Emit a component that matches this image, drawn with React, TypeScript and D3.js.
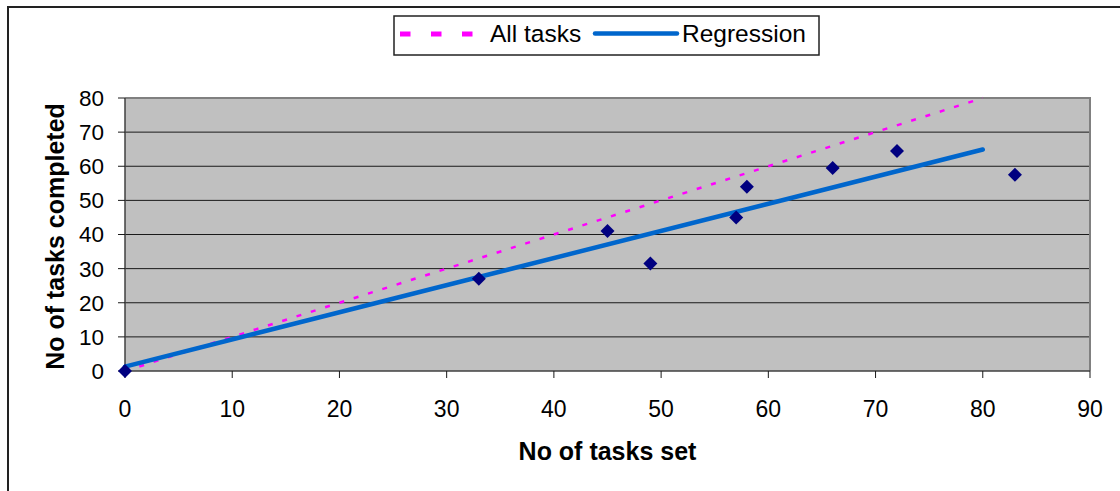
import React from "react";
import * as d3 from "d3";

const tasksSet = [0, 33, 45, 49, 57, 58, 66, 72, 83];
const tasksCompleted = [0, 27, 41, 31.5, 45, 54, 59.5, 64.5, 57.5];
const allTasksX = [0, 80];
const allTasksY = [0, 80];
const regressionX = [0, 80];
const regressionY = [1.3, 64.9];
const xTicks = [0, 10, 20, 30, 40, 50, 60, 70, 80, 90];
const yTicks = [0, 10, 20, 30, 40, 50, 60, 70, 80];
const xTitle = "No of tasks set";
const yTitle = "No of tasks completed";
const legendLabels = ["All tasks", "Regression"];

const W = 1120;
const H = 491;
const plot = { left: 125, right: 1090, top: 98, bottom: 371 };
const FONT = "Liberation Sans, Arial, Helvetica, sans-serif";

export default function App() {
  const x = d3.scaleLinear().domain([0, 90]).range([plot.left, plot.right]);
  const y = d3.scaleLinear().domain([0, 80]).range([plot.bottom, plot.top]);
  const line = d3
    .line<[number, number]>()
    .x((d) => x(d[0]))
    .y((d) => y(d[1]));
  const allPts: [number, number][] = allTasksX.map((v, i) => [v, allTasksY[i]]);
  const regPts: [number, number][] = regressionX.map((v, i) => [v, regressionY[i]]);
  const diamond = d3.symbol().type(d3.symbolDiamond2).size(125)();
  const yc = (plot.top + plot.bottom) / 2;
  const xc = (plot.left + plot.right) / 2;

  return (
    <svg
      width={W}
      height={H}
      style={{ position: "absolute", left: 0, top: 0, fontFamily: FONT }}
    >
      <rect x={0} y={0} width={W} height={H} fill="#ffffff" />
      {/* outer chart border */}
      <rect x={8} y={7} width={W + 20} height={H + 20} fill="none" stroke="#222" strokeWidth={2} />

      {/* plot area */}
      <rect
        x={plot.left}
        y={plot.top}
        width={plot.right - plot.left}
        height={plot.bottom - plot.top}
        fill="#c0c0c0"
      />
      {yTicks
        .filter((t) => t > 0 && t < 80)
        .map((t) => (
          <line
            key={"g" + t}
            x1={plot.left}
            x2={plot.right}
            y1={y(t)}
            y2={y(t)}
            stroke="#1a1a1a"
            strokeWidth={1}
          />
        ))}
      {/* top & right border (gray) */}
      <line x1={plot.left} x2={plot.right + 1} y1={plot.top} y2={plot.top} stroke="#808080" strokeWidth={2} />
      <line x1={plot.right} x2={plot.right} y1={plot.top} y2={plot.bottom} stroke="#808080" strokeWidth={2} />

      {/* axes */}
      <line x1={plot.left} x2={plot.left} y1={plot.top} y2={plot.bottom} stroke="#404040" strokeWidth={1.5} />
      <line x1={plot.left} x2={plot.right} y1={plot.bottom} y2={plot.bottom} stroke="#404040" strokeWidth={1.5} />
      {yTicks.map((t) => (
        <g key={"yt" + t}>
          <line x1={plot.left - 7} x2={plot.left} y1={y(t)} y2={y(t)} stroke="#1a1a1a" strokeWidth={1} />
          <text
            x={plot.left - 21}
            y={y(t)}
            dy="0.35em"
            textAnchor="end"
            fontSize={22.5}
            fill="#000"
          >
            {t}
          </text>
        </g>
      ))}
      {xTicks.map((t) => (
        <g key={"xt" + t}>
          <line x1={x(t)} x2={x(t)} y1={plot.bottom} y2={plot.bottom + 7} stroke="#1a1a1a" strokeWidth={1} />
          <text x={x(t)} y={417} textAnchor="middle" fontSize={23} fill="#000">
            {t}
          </text>
        </g>
      ))}

      {/* series */}
      <path
        d={line(allPts) || ""}
        fill="none"
        stroke="#ff00ff"
        strokeWidth={2.5}
        strokeDasharray="5 10"
      />
      <path
        d={line(regPts) || ""}
        fill="none"
        stroke="#0066cc"
        strokeWidth={4.5}
        strokeLinecap="round"
      />
      {tasksSet.map((v, i) => (
        <path
          key={"p" + i}
          d={diamond || ""}
          transform={`translate(${x(v)},${y(tasksCompleted[i])})`}
          fill="#000080"
        />
      ))}

      {/* axis titles */}
      <text x={xc} y={460} textAnchor="middle" fontSize={25} fontWeight="bold" fill="#000">
        {xTitle}
      </text>
      <text
        transform={`translate(64,${yc + 2}) rotate(-90)`}
        textAnchor="middle"
        fontSize={25}
        fontWeight="bold"
        fill="#000"
      >
        {yTitle}
      </text>

      {/* legend */}
      <rect x={394} y={16} width={425} height={39} fill="#fff" stroke="#222" strokeWidth={1.5} />
      <line x1={400} x2={484} y1={34} y2={34} stroke="#ff00ff" strokeWidth={5} strokeDasharray="10.5 20.5" />
      <text x={490} y={42} fontSize={24.5} fill="#000">
        {legendLabels[0]}
      </text>
      <line x1={595} x2={677} y1={33.5} y2={33.5} stroke="#0066cc" strokeWidth={4.5} strokeLinecap="round" />
      <text x={682} y={42} fontSize={24.5} fill="#000">
        {legendLabels[1]}
      </text>
    </svg>
  );
}
